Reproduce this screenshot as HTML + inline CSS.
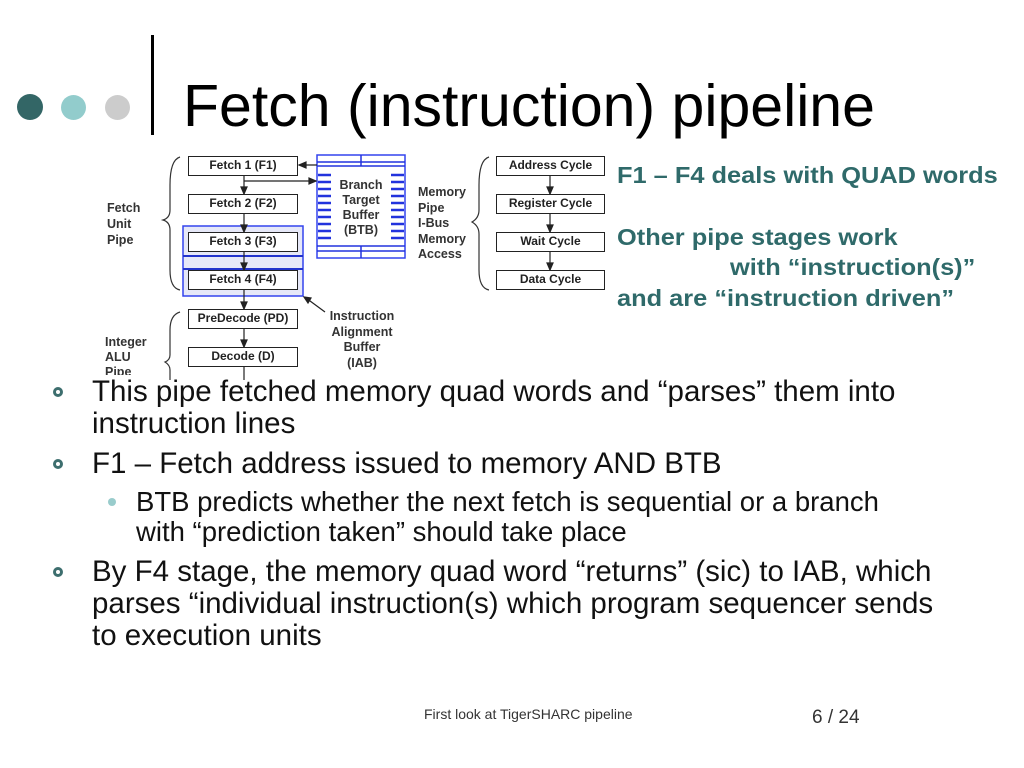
<!DOCTYPE html>
<html><head><meta charset="utf-8"><style>
body{margin:0;width:1024px;height:768px;background:#fff;position:relative;overflow:hidden;font-family:"Liberation Sans",Arial,sans-serif}
.a{position:absolute;white-space:nowrap}
.bx{position:absolute;border:1.5px solid #222;background:#fff;font:bold 12px "Liberation Sans",sans-serif;text-align:center;box-sizing:border-box;color:#222}
.lb{position:absolute;font:bold 12.5px/15px "Liberation Sans",sans-serif;color:#333}
.b{position:absolute;font-size:29.5px;line-height:32px;color:#111;white-space:nowrap}
.dot{position:absolute;width:10px;height:10px;border:3px solid #3d6e6e;border-radius:50%;box-sizing:border-box}
.t{position:absolute;font:bold 23.5px/26px "Liberation Sans",sans-serif;color:#2f6a6a;white-space:nowrap;transform:scaleX(1.08);transform-origin:0 0}
</style></head><body>
<div class="a" style="left:17px;top:94px;width:26px;height:26px;border-radius:50%;background:#336666"></div>
<div class="a" style="left:61px;top:95px;width:25px;height:25px;border-radius:50%;background:#92cccc"></div>
<div class="a" style="left:105px;top:95px;width:25px;height:25px;border-radius:50%;background:#cccccc"></div>
<div class="a" style="left:151px;top:35px;width:3px;height:100px;background:#000"></div>
<div class="a" style="left:183px;top:72px;font-size:59px;line-height:68px;color:#000">Fetch (instruction) pipeline</div>

<svg class="a" style="left:0;top:0" width="1024" height="380">
<rect x="183" y="226" width="120" height="70" fill="#e6e8f8" stroke="#3344ee" stroke-width="1.5"/>
<line x1="183" y1="256" x2="303" y2="256" stroke="#2233cc" stroke-width="2"/>
<line x1="183" y1="269" x2="303" y2="269" stroke="#2233cc" stroke-width="2"/>
<rect x="317" y="155" width="88" height="103" fill="#fff" stroke="#3344ee" stroke-width="1.5"/>
<g stroke="#2233dd" stroke-width="1.5">
<line x1="317" y1="162" x2="405" y2="162"/><line x1="317" y1="166" x2="405" y2="166"/>
<line x1="317" y1="246" x2="405" y2="246"/><line x1="317" y1="251" x2="405" y2="251"/>
<line x1="361" y1="155" x2="361" y2="166"/><line x1="361" y1="246" x2="361" y2="258"/>
</g>
<g stroke="#2233dd" stroke-width="2.5">
<line x1="318" y1="175" x2="331" y2="175"/><line x1="318" y1="182" x2="331" y2="182"/><line x1="318" y1="189" x2="331" y2="189"/><line x1="318" y1="196" x2="331" y2="196"/><line x1="318" y1="203" x2="331" y2="203"/><line x1="318" y1="210" x2="331" y2="210"/><line x1="318" y1="217" x2="331" y2="217"/><line x1="318" y1="224" x2="331" y2="224"/><line x1="318" y1="231" x2="331" y2="231"/><line x1="318" y1="238" x2="331" y2="238"/>
<line x1="391" y1="175" x2="404" y2="175"/><line x1="391" y1="182" x2="404" y2="182"/><line x1="391" y1="189" x2="404" y2="189"/><line x1="391" y1="196" x2="404" y2="196"/><line x1="391" y1="203" x2="404" y2="203"/><line x1="391" y1="210" x2="404" y2="210"/><line x1="391" y1="217" x2="404" y2="217"/><line x1="391" y1="224" x2="404" y2="224"/><line x1="391" y1="231" x2="404" y2="231"/><line x1="391" y1="238" x2="404" y2="238"/>
</g>
<g stroke="#222" stroke-width="1.2" fill="#222">
<line x1="244" y1="175" x2="244" y2="194"/><polygon points="241,187 247,187 244,194"/>
<line x1="244" y1="213" x2="244" y2="232"/><polygon points="241,225 247,225 244,232"/>
<line x1="244" y1="251" x2="244" y2="270"/><polygon points="241,263 247,263 244,270"/>
<line x1="244" y1="289" x2="244" y2="309"/><polygon points="241,302 247,302 244,309"/>
<line x1="244" y1="328" x2="244" y2="347"/><polygon points="241,340 247,340 244,347"/>
<line x1="244" y1="366" x2="244" y2="380"/>
<line x1="244" y1="181" x2="316" y2="181"/><polygon points="309,178 309,184 316,181"/>
<line x1="317" y1="165" x2="299" y2="165"/><polygon points="306,162 306,168 299,165"/>
<line x1="325" y1="312" x2="306" y2="298"/><polygon points="304,297 311,298 308,303"/>
<line x1="550" y1="175" x2="550" y2="194"/><polygon points="547,187 553,187 550,194"/>
<line x1="550" y1="213" x2="550" y2="232"/><polygon points="547,225 553,225 550,232"/>
<line x1="550" y1="251" x2="550" y2="270"/><polygon points="547,263 553,263 550,270"/>
</g>
<g fill="none" stroke="#333" stroke-width="1.2">
<path d="M180,157 Q170,160 170,185 L170,210 Q170,218 163,220 Q170,222 170,230 L170,270 Q170,288 180,290"/>
<path d="M180,312 Q170,315 170,330 L170,355 Q170,360 165,362 Q170,365 170,370 L170,380"/>
<path d="M489,157 Q479,160 479,185 L479,210 Q479,218 472,222 Q479,226 479,234 L479,270 Q479,288 489,290"/>
</g>
</svg>
<div class="bx" style="left:188px;top:156px;width:110px;height:20px;line-height:17px">Fetch 1 (F1)</div>
<div class="bx" style="left:188px;top:194px;width:110px;height:20px;line-height:17px">Fetch 2 (F2)</div>
<div class="bx" style="left:188px;top:232px;width:110px;height:20px;line-height:17px">Fetch 3 (F3)</div>
<div class="bx" style="left:188px;top:270px;width:110px;height:20px;line-height:17px">Fetch 4 (F4)</div>
<div class="bx" style="left:188px;top:309px;width:110px;height:20px;line-height:17px">PreDecode (PD)</div>
<div class="bx" style="left:188px;top:347px;width:110px;height:20px;line-height:17px">Decode (D)</div>
<div class="bx" style="left:496px;top:156px;width:109px;height:20px;line-height:17px">Address Cycle</div>
<div class="bx" style="left:496px;top:194px;width:109px;height:20px;line-height:17px">Register Cycle</div>
<div class="bx" style="left:496px;top:232px;width:109px;height:20px;line-height:17px">Wait Cycle</div>
<div class="bx" style="left:496px;top:270px;width:109px;height:20px;line-height:17px">Data Cycle</div>
<div class="lb" style="left:333px;top:178px;width:56px;text-align:center">Branch<br>Target<br>Buffer<br>(BTB)</div>
<div class="lb" style="left:107px;top:200px;line-height:16px">Fetch<br>Unit<br>Pipe</div>
<div class="lb" style="left:105px;top:335px;line-height:15px;height:40px;overflow:hidden">Integer<br>ALU<br>Pipe</div>
<div class="lb" style="left:418px;top:185px;line-height:15.5px">Memory<br>Pipe<br>I-Bus<br>Memory<br>Access</div>
<div class="lb" style="left:326px;top:309px;width:72px;text-align:center;line-height:15.5px">Instruction<br>Alignment<br>Buffer<br>(IAB)</div>

<div class="t" style="left:617px;top:162px">F1 – F4 deals with QUAD words</div>
<div class="t" style="left:617px;top:224px">Other pipe stages work</div>
<div class="t" style="left:730px;top:254px">with “instruction(s)”</div>
<div class="t" style="left:617px;top:285px">and are “instruction driven”</div>

<div class="dot" style="left:53px;top:387px"></div>
<div class="b" style="left:92px;top:376px">This pipe fetched memory quad words and “parses” them into<br>instruction lines</div>
<div class="dot" style="left:53px;top:459px"></div>
<div class="b" style="left:92px;top:448px">F1 – Fetch address issued to memory AND BTB</div>
<div class="a" style="left:108px;top:498px;width:8px;height:8px;border-radius:50%;background:#99cccc"></div>
<div class="b" style="left:136px;top:487px;font-size:27.5px;line-height:30px">BTB predicts whether the next fetch is sequential or a branch<br>with “prediction taken” should take place</div>
<div class="dot" style="left:53px;top:567px"></div>
<div class="b" style="left:92px;top:556px">By F4 stage, the memory quad word “returns” (sic) to IAB, which<br>parses “individual instruction(s) which program sequencer sends<br>to execution units</div>

<div class="a" style="left:424px;top:706px;font-size:14px;color:#333">First look at TigerSHARC pipeline</div>
<div class="a" style="left:812px;top:707px;font-size:19px;color:#333">6 / 24</div>
</body></html>
